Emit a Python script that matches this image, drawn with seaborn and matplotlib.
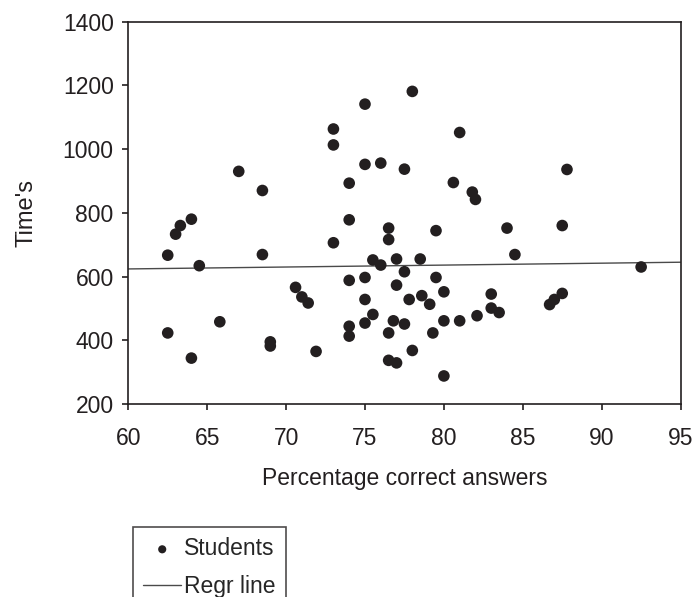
import numpy as np
import pandas as pd
import matplotlib
matplotlib.use("Agg")
import matplotlib.pyplot as plt
import seaborn as sns

# percentage correct answers and time per student
pct = [62.5, 63.0, 63.3, 64.0, 64.5, 62.5, 64.0, 65.8, 68.5, 69.0,
       69.0, 70.6, 71.0, 71.4, 67.0, 68.5, 73.0, 73.0, 75.0, 74.0,
       75.0, 76.0, 77.5, 78.0, 81.0, 80.6, 81.8, 82.0, 87.8, 84.0,
       87.5, 84.5, 92.5, 87.5, 86.7, 87.0, 83.0, 83.0, 83.5, 80.0,
       79.5, 81.0, 82.1, 80.0, 74.0, 76.5, 76.5, 79.5, 73.0, 75.5,
       76.0, 77.0, 78.5, 77.5, 74.0, 75.0, 77.0, 75.0, 77.8, 78.6,
       79.1, 75.5, 75.0, 74.0, 74.0, 76.8, 77.5, 76.5, 79.3, 71.9,
       78.0, 76.5, 77.0, 80.0]
times = [667, 733, 760, 780, 634, 423, 344, 458, 669, 395,
         382, 566, 536, 517, 930, 870, 1063, 1013, 1141, 893,
         952, 956, 937, 1181, 1052, 895, 865, 842, 936, 752,
         760, 669, 630, 547, 512, 528, 545, 501, 487, 552,
         597, 461, 477, 461, 778, 752, 716, 744, 706, 652,
         636, 655, 655, 615, 588, 597, 573, 528, 528, 540,
         513, 481, 454, 444, 413, 461, 451, 423, 423, 365,
         368, 337, 329, 288]

x_ticks = [60, 65, 70, 75, 80, 85, 90, 95]
y_ticks = [200, 400, 600, 800, 1000, 1200, 1400]

df = pd.DataFrame({"pct": pct, "time": times})

sns.set_style("white")
plt.rcParams['font.family'] = ['Liberation Sans', 'DejaVu Sans']

ink = "#231f20"
fig = plt.figure(figsize=(6.93, 5.97), dpi=100)
ax = fig.add_axes([0.1851, 0.3233, 0.7970, 0.6405])

sns.scatterplot(data=df, x="pct", y="time", ax=ax, color=ink,
                s=70, edgecolor="none", label="Students", zorder=3)

# least squares line over the full x range
slope, icpt = np.polyfit(df.pct, df.time, 1)
xs = np.array([x_ticks[0], x_ticks[-1]])
line = pd.DataFrame({"x": xs, "y": icpt + slope * xs})
sns.lineplot(data=line, x="x", y="y", ax=ax, color="#4a4a4a", lw=1.0,
             label="Regr line", zorder=2)

ax.set_xlim(60, 95)
ax.set_ylim(200, 1400)
ax.set_xticks(x_ticks)
ax.set_yticks(y_ticks)
for s in ax.spines.values():
    s.set_color(ink)
    s.set_linewidth(1.2)
ax.tick_params(axis="both", direction="out", length=4.5, width=1.2,
               color=ink, labelsize=16.5, labelcolor=ink,
               bottom=True, left=True)
ax.tick_params(axis="x", pad=12)
ax.tick_params(axis="y", pad=6)
ax.set_xlabel("Percentage correct answers", fontsize=16.5, color=ink,
              labelpad=12)
ax.set_ylabel("Time's", fontsize=17, color=ink, labelpad=18)

leg = ax.legend(loc="upper left", bbox_to_anchor=(133 / 693, 1 - 527 / 597),
                bbox_transform=fig.transFigure, fontsize=16.5, frameon=True,
                fancybox=False, borderaxespad=0, handlelength=1.65,
                handletextpad=0.12, labelspacing=0.62, markerscale=0.7,
                borderpad=0.45)
leg.get_frame().set_edgecolor(ink)
leg.get_frame().set_linewidth(1.2)

fig.savefig("out.png", dpi=100)
